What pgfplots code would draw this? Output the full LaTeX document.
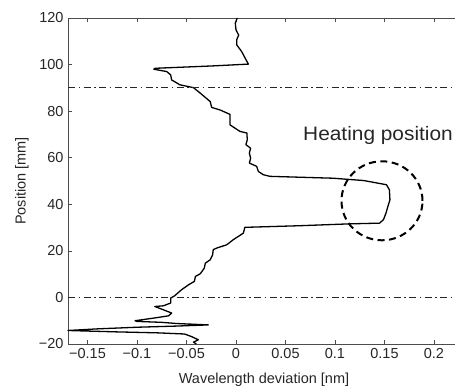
\documentclass[border=0pt]{standalone}
\usepackage{pgfplots}
\pgfplotsset{compat=1.18}
\usepackage{fontspec}
\setmainfont{Liberation Sans}
\newfontfamily\widefont[FakeStretch=1.07]{Liberation Sans}
\begin{document}
\begin{tikzpicture}
\begin{axis}[
  at={(68pt,45pt)}, anchor=south west,
  scale only axis, width=392pt, height=326pt,
  xmin=-0.1697, xmax=0.2263, ymin=-20, ymax=120,
  xtick={-0.15,-0.1,-0.05,0,0.05,0.1,0.15,0.2},
  xticklabels={−0.15,−0.1,−0.05,0,0.05,0.1,0.15,0.2},
  ytick={-20,0,20,40,60,80,100,120},
  yticklabels={−20,0,20,40,60,80,100,120},
  tick align=inside,
  major tick length=4pt,
  tick style={black!70, line width=0.6pt},
  axis line style={black!70, line width=0.7pt},
  ticklabel style={font=\fontsize{14.5}{16}\selectfont, text=black!85},
  xticklabel style={yshift=-1pt},
  yticklabel style={xshift=-1pt},
  xlabel={Wavelength deviation [nm]},
  ylabel={Position [mm]},
  every axis x label/.style={at={(axis description cs:0.5,0)}, anchor=center, yshift=-36pt, font=\fontsize{14.5}{16}\selectfont, text=black!85},
  every axis y label/.style={at={(axis description cs:0,0.5)}, xshift=-46pt, anchor=center, rotate=90, font=\fontsize{14.5}{16}\selectfont, text=black!85},
  clip=false,
]
\addplot[black, line width=1.3pt, line join=round] coordinates {
(0.0013,120) (-0.0007,117.8) (0,114.9) (0.0027,112.7) (0.0007,110.6) (0.0007,108.5)
(0.0057,105.6) (0.0125,100.2) (-0.0246,99.4) (-0.0818,98.4) (-0.083,98.0)
(-0.070,97.0) (-0.066,95.6) (-0.065,93.4) (-0.0566,91.3) (-0.043,90.1)
(-0.036,87.7) (-0.026,84.1) (-0.0246,81.6) (-0.016,80.5) (-0.006,78.6)
(-0.006,74.1) (-0.001,72.7) (0.004,71.3) (0.011,70.6) (0.0114,67.7)
(0.010,65.6) (0.0148,64.1) (0.0135,62.0) (0.0148,59.8) (0.0135,57.7)
(0.0209,56.3) (0.0226,54.1) (0.0276,52.7) (0.0343,52.0) (0.098,51.2)
(0.129,50.2) (0.152,48.4) (0.155,46.2) (0.1555,41.9) (0.153,38.4)
(0.1515,36.2) (0.149,33.4) (0.145,31.9) (0.115,31.6) (0.0646,30.8)
(0.009,30.1) (0.0074,27.6) (-0.0027,24.8) (-0.0094,22.6) (-0.0195,21.2)
(-0.023,20.5) (-0.0236,18.3) (-0.026,16.2) (-0.031,14.7) (-0.032,12.6)
(-0.036,10.2) (-0.041,9.0) (-0.042,6.9) (-0.048,5.4) (-0.055,3.3)
(-0.062,0.7) (-0.066,-0.3) (-0.066,-2.4) (-0.0734,-3.6) (-0.082,-3.9)
(-0.0734,-5.3) (-0.065,-6.7) (-0.068,-7.9) (-0.0835,-8.9) (-0.102,-10.0)
(-0.100,-10.3) (-0.075,-10.7) (-0.060,-11.2) (-0.028,-11.8) (-0.060,-12.3)
(-0.100,-12.8) (-0.140,-13.5) (-0.1697,-14.2) (-0.120,-14.8) (-0.080,-15.2)
(-0.052,-15.7) (-0.045,-16.8) (-0.038,-18.2) (-0.043,-19.2) (-0.040,-20)
};
\addplot[black!85, line width=0.9pt, dash pattern=on 7pt off 3.5pt on 1.5pt off 3.5pt] coordinates {(-0.1697,90) (0.2263,90)};
\addplot[black!85, line width=0.9pt, dash pattern=on 7pt off 3.5pt on 1.5pt off 3.5pt] coordinates {(-0.1697,0) (0.2263,0)};
\draw[black, line width=2pt, dash pattern=on 7pt off 4.5pt] (axis cs:0.1475,41.5) ellipse [x radius=40.5pt, y radius=39.5pt];
\node[anchor=west, font=\widefont\fontsize{19.5}{22}\selectfont, text=black!85, inner sep=0pt] at (axis cs:0.0677,69.4) {Heating position};
\end{axis}
\pgfresetboundingbox
\path[use as bounding box] (0,0) rectangle (455pt,389pt);
\end{tikzpicture}
\end{document}
